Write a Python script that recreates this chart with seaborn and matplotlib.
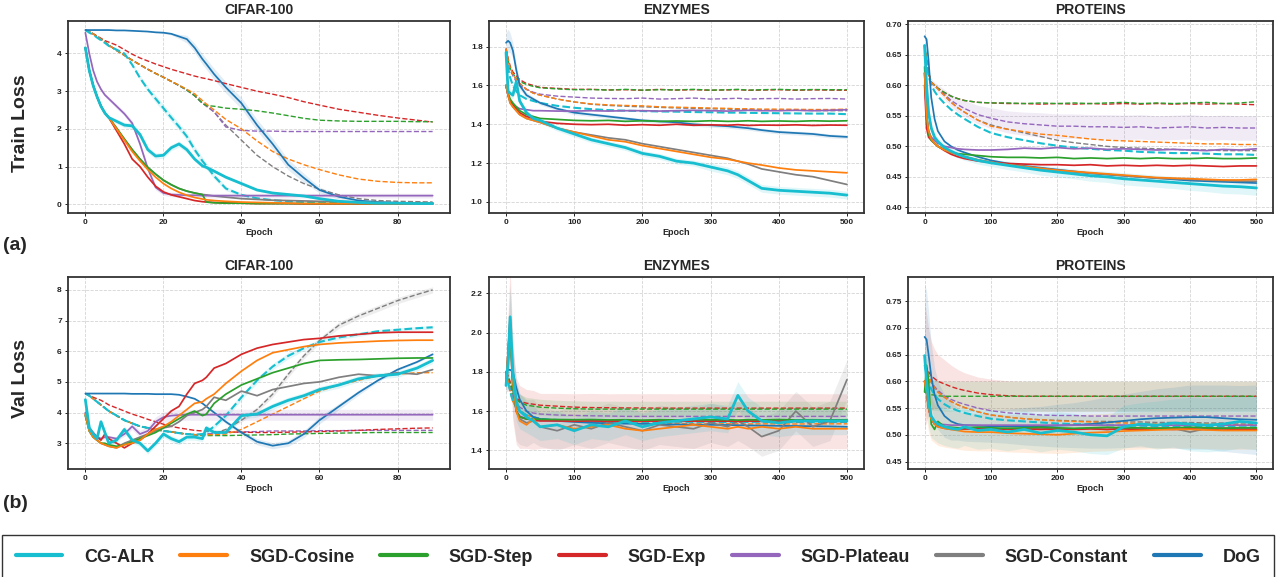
import numpy as np
import seaborn as sns
import matplotlib.pyplot as plt
from matplotlib.lines import Line2D

# methods / colours
methods = ['CG-ALR', 'SGD-Cosine', 'SGD-Step', 'SGD-Exp', 'SGD-Plateau', 'SGD-Constant', 'DoG']
colors = ['#17becf', '#ff7f0e', '#2ca02c', '#d62728', '#9467bd', '#7f7f7f', '#1f77b4']

# ---------------- CIFAR-100 (epochs 0-89) ----------------
cifar_ep = [0, 1, 2, 3, 4, 5, 6, 8, 10, 12, 14, 16, 18, 20, 22, 24, 26, 28, 30, 31, 33, 36, 40, 44, 48, 52, 56, 60, 65, 70, 75, 80, 85, 89]

# train loss, solid
cifar_tr_cg = [4.15, 3.55, 3.15, 2.85, 2.6, 2.42, 2.3, 2.2, 2.1, 2.08, 1.85, 1.45, 1.28, 1.3, 1.5, 1.6, 1.45, 1.2, 1.02, 0.98, 0.88, 0.72, 0.55, 0.38, 0.3, 0.26, 0.22, 0.15, 0.08, 0.05, 0.03, 0.03, 0.02, 0.02]
cifar_tr_cos = [4.15, 3.55, 3.15, 2.85, 2.6, 2.42, 2.3, 2.0, 1.7, 1.4, 1.15, 0.92, 0.72, 0.55, 0.42, 0.32, 0.24, 0.18, 0.14, 0.12, 0.1, 0.08, 0.06, 0.05, 0.04, 0.03, 0.02, 0.02, 0.02, 0.02, 0.02, 0.02, 0.02, 0.02]
cifar_tr_step = [4.15, 3.55, 3.15, 2.85, 2.6, 2.42, 2.3, 2.02, 1.73, 1.45, 1.2, 0.98, 0.8, 0.64, 0.52, 0.42, 0.35, 0.3, 0.26, 0.06, 0.04, 0.03, 0.03, 0.02, 0.02, 0.02, 0.02, 0.02, 0.02, 0.02, 0.02, 0.02, 0.02, 0.02]
cifar_tr_exp = [4.15, 3.55, 3.15, 2.85, 2.6, 2.42, 2.3, 1.95, 1.6, 1.2, 1.0, 0.72, 0.48, 0.33, 0.25, 0.2, 0.15, 0.1, 0.07, 0.06, 0.05, 0.04, 0.03, 0.02, 0.02, 0.02, 0.01, 0.01, 0.01, 0.01, 0.01, 0.01, 0.01, 0.01]
cifar_tr_plat = [4.55, 4.0, 3.55, 3.25, 3.05, 2.9, 2.8, 2.6, 2.4, 2.15, 1.6, 0.95, 0.45, 0.3, 0.26, 0.25, 0.24, 0.24, 0.23, 0.23, 0.23, 0.23, 0.23, 0.23, 0.23, 0.23, 0.23, 0.23, 0.23, 0.23, 0.23, 0.23, 0.23, 0.23]
cifar_tr_const = [4.15, 3.55, 3.15, 2.85, 2.6, 2.42, 2.3, 2.02, 1.73, 1.45, 1.2, 0.98, 0.8, 0.64, 0.52, 0.42, 0.35, 0.3, 0.26, 0.25, 0.22, 0.19, 0.15, 0.13, 0.11, 0.1, 0.09, 0.08, 0.07, 0.06, 0.05, 0.04, 0.04, 0.04]
cifar_tr_dog = [4.62, 4.62, 4.62, 4.62, 4.62, 4.62, 4.62, 4.61, 4.61, 4.6, 4.59, 4.58, 4.56, 4.55, 4.52, 4.45, 4.38, 4.15, 3.85, 3.72, 3.45, 3.1, 2.68, 2.1, 1.6, 1.05, 0.7, 0.38, 0.2, 0.1, 0.06, 0.04, 0.03, 0.03]
# train loss, dashed
cifar_tr_cg_d = [4.62, 4.55, 4.5, 4.42, 4.35, 4.28, 4.2, 4.1, 4.0, 3.7, 3.35, 3.05, 2.8, 2.55, 2.3, 2.06, 1.8, 1.45, 1.15, 1.02, 0.75, 0.42, 0.25, 0.16, 0.11, 0.08, 0.06, 0.05, 0.04, 0.03, 0.03, 0.02, 0.02, 0.02]
cifar_tr_cos_d = [4.62, 4.58, 4.52, 4.45, 4.38, 4.3, 4.22, 4.08, 3.95, 3.82, 3.7, 3.58, 3.47, 3.37, 3.26, 3.16, 3.05, 2.93, 2.75, 2.66, 2.5, 2.25, 2.0, 1.68, 1.4, 1.2, 1.05, 0.92, 0.78, 0.67, 0.61, 0.58, 0.57, 0.57]
cifar_tr_step_d = [4.62, 4.58, 4.52, 4.45, 4.38, 4.3, 4.22, 4.08, 3.95, 3.82, 3.7, 3.58, 3.47, 3.37, 3.26, 3.15, 3.03, 2.88, 2.68, 2.62, 2.6, 2.55, 2.52, 2.48, 2.42, 2.35, 2.28, 2.23, 2.21, 2.2, 2.2, 2.2, 2.19, 2.19]
cifar_tr_exp_d = [4.62, 4.58, 4.52, 4.46, 4.4, 4.34, 4.3, 4.22, 4.1, 3.98, 3.88, 3.8, 3.72, 3.65, 3.58, 3.52, 3.46, 3.4, 3.35, 3.33, 3.28, 3.2, 3.1, 3.0, 2.92, 2.83, 2.72, 2.63, 2.52, 2.44, 2.36, 2.29, 2.23, 2.18]
cifar_tr_plat_d = [4.62, 4.58, 4.52, 4.45, 4.38, 4.3, 4.22, 4.08, 3.95, 3.82, 3.7, 3.58, 3.47, 3.37, 3.26, 3.15, 3.03, 2.88, 2.68, 2.62, 2.45, 2.05, 1.96, 1.94, 1.94, 1.93, 1.93, 1.93, 1.93, 1.93, 1.93, 1.93, 1.93, 1.93]
cifar_tr_const_d = [4.62, 4.58, 4.52, 4.45, 4.38, 4.3, 4.22, 4.08, 3.95, 3.82, 3.7, 3.58, 3.47, 3.37, 3.26, 3.15, 3.03, 2.88, 2.68, 2.6, 2.45, 2.1, 1.7, 1.3, 1.0, 0.75, 0.55, 0.4, 0.25, 0.15, 0.1, 0.08, 0.07, 0.06]
# train loss, spread
cifar_tr_dog_sd = [0, 0, 0, 0, 0, 0, 0, 0, 0, 0, 0, 0, 0.01, 0.02, 0.03, 0.06, 0.1, 0.12, 0.14, 0.14, 0.15, 0.15, 0.15, 0.15, 0.15, 0.14, 0.12, 0.08, 0.06, 0.04, 0.03, 0.02, 0.02, 0.02]
cifar_tr_cg_d_sd = [0, 0, 0, 0, 0, 0, 0, 0, 0.02, 0.04, 0.06, 0.08, 0.1, 0.1, 0.1, 0.1, 0.1, 0.1, 0.1, 0.09, 0.08, 0.06, 0.04, 0.03, 0.02, 0.02, 0.01, 0.01, 0.01, 0.01, 0.01, 0.01, 0.01, 0.01]
cifar_tr_cg_sd = [0.02, 0.03, 0.04, 0.05, 0.05, 0.05, 0.05, 0.06, 0.07, 0.08, 0.08, 0.08, 0.08, 0.08, 0.08, 0.08, 0.08, 0.06, 0.05, 0.05, 0.04, 0.04, 0.03, 0.03, 0.03, 0.02, 0.02, 0.02, 0.02, 0.02, 0.02, 0.02, 0.02, 0.02]
cifar_tr_plat_sd = [0, 0.02, 0.03, 0.04, 0.05, 0.05, 0.05, 0.06, 0.06, 0.07, 0.07, 0.07, 0.07, 0.06, 0.06, 0.06, 0.06, 0.06, 0.06, 0.06, 0.06, 0.06, 0.06, 0.06, 0.06, 0.06, 0.06, 0.06, 0.06, 0.06, 0.06, 0.06, 0.06, 0.06]

# val loss, solid
cifar_va_cg = [4.42, 3.5, 3.3, 3.15, 3.7, 3.35, 3.0, 3.1, 3.45, 3.1, 3.0, 2.75, 3.0, 3.3, 3.15, 3.05, 3.2, 3.2, 3.15, 3.5, 3.35, 3.35, 3.9, 3.95, 4.2, 4.4, 4.55, 4.75, 4.9, 5.1, 5.2, 5.25, 5.45, 5.7]
cifar_va_cos = [3.95, 3.4, 3.2, 3.1, 3.0, 2.95, 2.9, 2.85, 2.95, 3.0, 3.1, 3.3, 3.45, 3.55, 3.7, 3.9, 4.1, 4.3, 4.35, 4.45, 4.6, 4.95, 5.35, 5.7, 5.95, 6.05, 6.15, 6.22, 6.27, 6.3, 6.33, 6.35, 6.36, 6.36]
cifar_va_step = [3.9, 3.4, 3.2, 3.1, 3.0, 3.0, 2.95, 2.9, 2.95, 3.05, 3.15, 3.25, 3.35, 3.5, 3.65, 3.8, 3.95, 4.05, 3.9, 3.95, 4.3, 4.6, 4.9, 5.1, 5.3, 5.45, 5.6, 5.7, 5.72, 5.73, 5.75, 5.77, 5.78, 5.78]
cifar_va_exp = [3.95, 3.5, 3.3, 3.2, 3.1, 3.3, 3.15, 3.0, 2.85, 3.0, 3.1, 3.3, 3.55, 3.8, 4.05, 4.2, 4.6, 4.95, 5.05, 5.15, 5.45, 5.6, 5.9, 6.1, 6.22, 6.3, 6.38, 6.42, 6.5, 6.55, 6.6, 6.62, 6.62, 6.62]
cifar_va_plat = [4.0, 3.5, 3.35, 3.2, 3.15, 3.2, 3.2, 3.15, 3.3, 3.55, 3.3, 3.4, 3.7, 3.85, 3.9, 3.92, 3.93, 3.93, 3.93, 3.93, 3.93, 3.93, 3.93, 3.93, 3.93, 3.93, 3.93, 3.93, 3.93, 3.93, 3.93, 3.93, 3.93, 3.93]
cifar_va_const = [3.9, 3.4, 3.2, 3.1, 3.0, 2.95, 2.9, 2.85, 3.0, 3.1, 3.2, 3.3, 3.4, 3.5, 3.55, 3.7, 3.9, 4.0, 4.1, 4.2, 4.5, 4.4, 4.7, 4.55, 4.75, 4.85, 4.95, 5.0, 5.15, 5.25, 5.2, 5.3, 5.25, 5.4]
cifar_va_dog = [4.62, 4.62, 4.62, 4.62, 4.62, 4.62, 4.62, 4.62, 4.62, 4.61, 4.61, 4.61, 4.6, 4.6, 4.6, 4.58, 4.52, 4.45, 4.3, 4.2, 4.0, 3.7, 3.35, 3.05, 2.92, 3.0, 3.3, 3.75, 4.2, 4.65, 5.05, 5.4, 5.65, 5.9]
# val loss, dashed
cifar_va_cg_d = [4.62, 4.55, 4.45, 4.35, 4.25, 4.15, 4.05, 3.9, 3.75, 3.65, 3.55, 3.5, 3.45, 3.4, 3.37, 3.33, 3.3, 3.28, 3.3, 3.35, 3.55, 3.9, 4.5, 5.05, 5.5, 5.85, 6.1, 6.3, 6.45, 6.55, 6.65, 6.7, 6.75, 6.78]
cifar_va_cos_d = [4.62, 4.55, 4.45, 4.35, 4.25, 4.15, 4.05, 3.9, 3.75, 3.65, 3.55, 3.5, 3.45, 3.4, 3.37, 3.33, 3.3, 3.28, 3.27, 3.28, 3.28, 3.3, 3.45, 3.7, 3.95, 4.2, 4.45, 4.7, 4.9, 5.05, 5.2, 5.25, 5.3, 5.3]
cifar_va_step_d = [4.62, 4.55, 4.45, 4.35, 4.25, 4.15, 4.05, 3.9, 3.75, 3.65, 3.55, 3.5, 3.45, 3.4, 3.37, 3.33, 3.3, 3.28, 3.25, 3.25, 3.25, 3.25, 3.26, 3.27, 3.28, 3.3, 3.31, 3.32, 3.33, 3.34, 3.35, 3.35, 3.35, 3.35]
cifar_va_exp_d = [4.62, 4.57, 4.5, 4.45, 4.4, 4.33, 4.25, 4.15, 4.05, 3.95, 3.87, 3.78, 3.7, 3.62, 3.55, 3.5, 3.46, 3.42, 3.4, 3.4, 3.38, 3.37, 3.36, 3.35, 3.35, 3.36, 3.37, 3.38, 3.4, 3.42, 3.45, 3.47, 3.49, 3.5]
cifar_va_plat_d = [4.62, 4.55, 4.45, 4.35, 4.25, 4.15, 4.05, 3.9, 3.75, 3.65, 3.55, 3.5, 3.45, 3.4, 3.37, 3.33, 3.3, 3.28, 3.27, 3.3, 3.32, 3.35, 3.37, 3.38, 3.4, 3.4, 3.4, 3.41, 3.41, 3.42, 3.42, 3.42, 3.42, 3.42]
cifar_va_const_d = [4.62, 4.55, 4.45, 4.35, 4.25, 4.15, 4.05, 3.9, 3.75, 3.65, 3.55, 3.5, 3.45, 3.4, 3.37, 3.33, 3.3, 3.28, 3.27, 3.3, 3.32, 3.45, 3.75, 4.1, 4.6, 5.25, 5.85, 6.35, 6.85, 7.15, 7.4, 7.65, 7.85, 8.0]
# val loss, spread
cifar_va_plat_sd = [0.05, 0.05, 0.05, 0.05, 0.05, 0.05, 0.05, 0.06, 0.08, 0.1, 0.12, 0.14, 0.16, 0.17, 0.18, 0.18, 0.18, 0.18, 0.18, 0.18, 0.18, 0.18, 0.18, 0.18, 0.18, 0.18, 0.18, 0.18, 0.18, 0.18, 0.18, 0.18, 0.18, 0.18]
cifar_va_cg_d_sd = [0.02, 0.02, 0.02, 0.02, 0.02, 0.02, 0.02, 0.02, 0.02, 0.02, 0.02, 0.02, 0.02, 0.02, 0.02, 0.02, 0.02, 0.02, 0.05, 0.06, 0.08, 0.1, 0.1, 0.1, 0.1, 0.1, 0.08, 0.08, 0.07, 0.07, 0.06, 0.06, 0.06, 0.06]
cifar_va_dog_sd = [0, 0, 0, 0, 0, 0, 0, 0, 0, 0, 0, 0, 0, 0, 0, 0, 0, 0, 0, 0.02, 0.04, 0.06, 0.08, 0.1, 0.1, 0.1, 0.12, 0.12, 0.1, 0.08, 0.05, 0.04, 0.03, 0.03]
cifar_va_const_d_sd = [0, 0, 0, 0, 0, 0, 0, 0, 0, 0, 0, 0, 0, 0, 0, 0, 0, 0, 0, 0, 0, 0.05, 0.06, 0.08, 0.1, 0.1, 0.1, 0.1, 0.1, 0.1, 0.1, 0.1, 0.1, 0.1]
cifar_va_cg_sd = [0.2, 0.15, 0.1, 0.1, 0.1, 0.1, 0.1, 0.1, 0.12, 0.1, 0.1, 0.1, 0.1, 0.1, 0.1, 0.1, 0.1, 0.1, 0.1, 0.1, 0.1, 0.1, 0.1, 0.1, 0.1, 0.1, 0.1, 0.1, 0.1, 0.1, 0.1, 0.1, 0.1, 0.1]

# ---------------- ENZYMES (epochs 0-500) ----------------
enz_ep = [0, 3, 6, 10, 15, 20, 30, 40, 50, 75, 100, 125, 150, 175, 200, 225, 250, 275, 300, 325, 340, 355, 375, 400, 425, 450, 475, 500]

enz_tr_cg = [1.77, 1.57, 1.56, 1.55, 1.62, 1.52, 1.46, 1.43, 1.42, 1.38, 1.35, 1.32, 1.3, 1.28, 1.25, 1.235, 1.21, 1.2, 1.18, 1.16, 1.14, 1.11, 1.07, 1.06, 1.055, 1.05, 1.045, 1.035]
enz_tr_cos = [1.6, 1.55, 1.51, 1.49, 1.47, 1.45, 1.43, 1.42, 1.41, 1.38, 1.36, 1.34, 1.32, 1.31, 1.29, 1.275, 1.26, 1.245, 1.23, 1.22, 1.21, 1.2, 1.19, 1.175, 1.165, 1.16, 1.155, 1.15]
enz_tr_step = [1.6, 1.56, 1.53, 1.51, 1.49, 1.47, 1.45, 1.44, 1.43, 1.425, 1.42, 1.418, 1.42, 1.415, 1.418, 1.415, 1.417, 1.415, 1.418, 1.415, 1.416, 1.418, 1.415, 1.417, 1.415, 1.418, 1.416, 1.418]
enz_tr_exp = [1.6, 1.55, 1.52, 1.5, 1.48, 1.46, 1.44, 1.43, 1.415, 1.405, 1.4, 1.398, 1.4, 1.395, 1.398, 1.395, 1.4, 1.395, 1.397, 1.395, 1.398, 1.394, 1.396, 1.395, 1.397, 1.394, 1.396, 1.395]
enz_tr_plat = [1.6, 1.55, 1.52, 1.5, 1.49, 1.48, 1.475, 1.47, 1.47, 1.468, 1.468, 1.47, 1.468, 1.47, 1.47, 1.468, 1.47, 1.472, 1.47, 1.468, 1.47, 1.472, 1.47, 1.47, 1.472, 1.47, 1.472, 1.475]
enz_tr_const = [1.6, 1.55, 1.51, 1.49, 1.47, 1.45, 1.43, 1.42, 1.41, 1.38, 1.36, 1.345, 1.33, 1.32, 1.3, 1.285, 1.27, 1.255, 1.24, 1.225, 1.21, 1.195, 1.17, 1.155, 1.14, 1.13, 1.11, 1.09]
enz_tr_dog = [1.82, 1.83, 1.82, 1.78, 1.68, 1.6, 1.55, 1.53, 1.51, 1.48, 1.46, 1.45, 1.44, 1.43, 1.42, 1.415, 1.41, 1.4, 1.395, 1.39, 1.385, 1.38, 1.37, 1.36, 1.355, 1.35, 1.34, 1.335]
enz_tr_cg_d = [1.76, 1.69, 1.64, 1.6, 1.57, 1.55, 1.53, 1.52, 1.51, 1.495, 1.485, 1.478, 1.473, 1.47, 1.468, 1.466, 1.465, 1.463, 1.462, 1.46, 1.46, 1.459, 1.458, 1.457, 1.456, 1.455, 1.455, 1.452]
enz_tr_cos_d = [1.79, 1.73, 1.69, 1.66, 1.63, 1.61, 1.58, 1.56, 1.55, 1.53, 1.515, 1.505, 1.5, 1.497, 1.495, 1.49, 1.488, 1.486, 1.484, 1.482, 1.48, 1.48, 1.478, 1.478, 1.477, 1.476, 1.476, 1.478]
enz_tr_step_d = [1.78, 1.73, 1.69, 1.66, 1.64, 1.62, 1.605, 1.595, 1.588, 1.582, 1.578, 1.579, 1.576, 1.58, 1.576, 1.578, 1.577, 1.58, 1.576, 1.578, 1.58, 1.576, 1.578, 1.58, 1.577, 1.579, 1.578, 1.578]
enz_tr_exp_d = [1.79, 1.74, 1.7, 1.67, 1.65, 1.63, 1.61, 1.6, 1.59, 1.585, 1.58, 1.58, 1.577, 1.578, 1.575, 1.58, 1.576, 1.578, 1.575, 1.577, 1.578, 1.575, 1.576, 1.578, 1.575, 1.577, 1.576, 1.575]
enz_tr_plat_d = [1.78, 1.72, 1.68, 1.65, 1.62, 1.6, 1.58, 1.565, 1.555, 1.545, 1.54, 1.535, 1.533, 1.532, 1.535, 1.53, 1.532, 1.535, 1.53, 1.532, 1.534, 1.53, 1.532, 1.533, 1.53, 1.532, 1.533, 1.53]
enz_tr_const_d = [1.79, 1.73, 1.69, 1.66, 1.63, 1.61, 1.58, 1.56, 1.55, 1.53, 1.515, 1.503, 1.497, 1.493, 1.49, 1.487, 1.484, 1.482, 1.48, 1.478, 1.476, 1.475, 1.474, 1.473, 1.472, 1.471, 1.47, 1.47]
enz_tr_dog_sd = [0.05, 0.06, 0.05, 0.04, 0.03, 0.02, 0.015, 0.01, 0.01, 0.01, 0.01, 0.01, 0.01, 0.01, 0.01, 0.01, 0.01, 0.01, 0.01, 0.01, 0.01, 0.01, 0.01, 0.01, 0.01, 0.01, 0.01, 0.01]
enz_tr_cg_sd = [0.03, 0.02, 0.02, 0.02, 0.02, 0.015, 0.015, 0.015, 0.015, 0.015, 0.015, 0.015, 0.015, 0.015, 0.015, 0.015, 0.015, 0.015, 0.02, 0.02, 0.02, 0.02, 0.02, 0.02, 0.02, 0.02, 0.02, 0.02]

enz_va_cg = [1.73, 1.85, 2.08, 1.8, 1.65, 1.6, 1.57, 1.55, 1.52, 1.53, 1.5, 1.53, 1.52, 1.55, 1.52, 1.54, 1.55, 1.56, 1.57, 1.56, 1.68, 1.6, 1.55, 1.54, 1.55, 1.55, 1.55, 1.55]
enz_va_cos = [1.75, 1.9, 2.05, 1.75, 1.6, 1.55, 1.53, 1.56, 1.52, 1.53, 1.51, 1.52, 1.53, 1.51, 1.5, 1.51, 1.52, 1.53, 1.52, 1.51, 1.52, 1.51, 1.52, 1.51, 1.52, 1.51, 1.51, 1.51]
enz_va_step = [1.75, 1.85, 2.0, 1.72, 1.6, 1.57, 1.56, 1.56, 1.558, 1.557, 1.556, 1.557, 1.555, 1.556, 1.554, 1.556, 1.555, 1.557, 1.555, 1.556, 1.554, 1.556, 1.555, 1.557, 1.555, 1.556, 1.555, 1.556]
enz_va_exp = [1.75, 1.9, 2.08, 1.75, 1.6, 1.57, 1.56, 1.555, 1.55, 1.55, 1.548, 1.55, 1.548, 1.549, 1.548, 1.549, 1.548, 1.549, 1.548, 1.549, 1.548, 1.549, 1.548, 1.549, 1.548, 1.549, 1.548, 1.548]
enz_va_plat = [1.75, 1.85, 2.0, 1.72, 1.6, 1.575, 1.56, 1.555, 1.552, 1.55, 1.55, 1.551, 1.55, 1.549, 1.55, 1.551, 1.55, 1.55, 1.549, 1.55, 1.551, 1.55, 1.55, 1.549, 1.55, 1.55, 1.551, 1.55]
enz_va_const = [1.75, 1.9, 2.05, 1.75, 1.6, 1.56, 1.54, 1.55, 1.52, 1.5, 1.53, 1.51, 1.54, 1.52, 1.5, 1.53, 1.52, 1.51, 1.54, 1.52, 1.55, 1.52, 1.47, 1.5, 1.6, 1.52, 1.55, 1.76]
enz_va_dog = [1.8, 1.81, 1.81, 1.8, 1.72, 1.66, 1.6, 1.57, 1.56, 1.55, 1.545, 1.54, 1.538, 1.536, 1.535, 1.533, 1.532, 1.531, 1.53, 1.529, 1.528, 1.527, 1.526, 1.525, 1.524, 1.523, 1.522, 1.52]
enz_va_cg_d = [1.8, 1.75, 1.7, 1.65, 1.62, 1.6, 1.58, 1.57, 1.56, 1.555, 1.55, 1.548, 1.547, 1.546, 1.545, 1.545, 1.546, 1.545, 1.545, 1.544, 1.545, 1.545, 1.546, 1.545, 1.545, 1.544, 1.545, 1.545]
enz_va_cos_d = [1.8, 1.75, 1.7, 1.65, 1.62, 1.6, 1.58, 1.57, 1.56, 1.553, 1.548, 1.545, 1.54, 1.538, 1.537, 1.536, 1.535, 1.535, 1.534, 1.535, 1.535, 1.534, 1.535, 1.535, 1.534, 1.535, 1.535, 1.535]
enz_va_step_d = [1.8, 1.77, 1.74, 1.69, 1.66, 1.645, 1.63, 1.625, 1.62, 1.615, 1.612, 1.61, 1.61, 1.61, 1.61, 1.61, 1.61, 1.61, 1.61, 1.61, 1.61, 1.61, 1.61, 1.61, 1.61, 1.61, 1.61, 1.61]
enz_va_exp_d = [1.8, 1.78, 1.75, 1.7, 1.67, 1.65, 1.64, 1.635, 1.63, 1.625, 1.62, 1.618, 1.617, 1.616, 1.616, 1.615, 1.615, 1.615, 1.615, 1.615, 1.615, 1.615, 1.615, 1.615, 1.615, 1.615, 1.615, 1.615]
enz_va_plat_d = [1.8, 1.76, 1.72, 1.67, 1.64, 1.62, 1.6, 1.59, 1.585, 1.58, 1.578, 1.576, 1.575, 1.573, 1.573, 1.573, 1.573, 1.573, 1.573, 1.573, 1.573, 1.573, 1.573, 1.573, 1.573, 1.573, 1.573, 1.573]
enz_va_const_d = [1.8, 1.75, 1.7, 1.65, 1.62, 1.6, 1.58, 1.57, 1.56, 1.555, 1.55, 1.55, 1.55, 1.55, 1.55, 1.55, 1.55, 1.55, 1.55, 1.55, 1.55, 1.55, 1.55, 1.55, 1.55, 1.55, 1.55, 1.55]
enz_va_exp_sd = [0.05, 0.2, 0.25, 0.2, 0.17, 0.16, 0.15, 0.15, 0.14, 0.14, 0.14, 0.14, 0.14, 0.14, 0.14, 0.14, 0.14, 0.14, 0.14, 0.14, 0.14, 0.14, 0.14, 0.14, 0.14, 0.14, 0.14, 0.14]
enz_va_const_sd = [0.05, 0.15, 0.2, 0.18, 0.15, 0.13, 0.12, 0.11, 0.1, 0.1, 0.1, 0.1, 0.1, 0.1, 0.1, 0.1, 0.1, 0.1, 0.1, 0.1, 0.1, 0.1, 0.1, 0.1, 0.1, 0.1, 0.1, 0.1]
enz_va_cg_sd = [0.05, 0.1, 0.15, 0.12, 0.1, 0.09, 0.08, 0.08, 0.07, 0.07, 0.07, 0.07, 0.07, 0.07, 0.07, 0.07, 0.07, 0.07, 0.07, 0.07, 0.07, 0.07, 0.07, 0.07, 0.07, 0.07, 0.07, 0.07]
enz_va_step_d_sd = [0.02, 0.03, 0.04, 0.04, 0.04, 0.04, 0.04, 0.04, 0.04, 0.04, 0.04, 0.04, 0.04, 0.04, 0.04, 0.04, 0.04, 0.04, 0.04, 0.04, 0.04, 0.04, 0.04, 0.04, 0.04, 0.04, 0.04, 0.04]

# ---------------- PROTEINS (epochs 0-500) ----------------
prot_ep = [0, 3, 6, 10, 15, 20, 30, 40, 50, 60, 80, 100, 125, 150, 175, 200, 225, 250, 275, 300, 325, 350, 375, 400, 425, 450, 475, 500]

prot_tr_cg = [0.665, 0.6, 0.555, 0.53, 0.515, 0.508, 0.498, 0.492, 0.487, 0.483, 0.477, 0.473, 0.469, 0.465, 0.461, 0.458, 0.455, 0.452, 0.45, 0.447, 0.445, 0.443, 0.441, 0.439, 0.437, 0.435, 0.434, 0.432]
prot_tr_cos = [0.62, 0.55, 0.525, 0.512, 0.505, 0.5, 0.494, 0.49, 0.486, 0.483, 0.478, 0.474, 0.47, 0.467, 0.464, 0.461, 0.459, 0.457, 0.455, 0.453, 0.451, 0.449, 0.448, 0.447, 0.446, 0.445, 0.445, 0.446]
prot_tr_step = [0.63, 0.55, 0.52, 0.51, 0.505, 0.5, 0.495, 0.49, 0.488, 0.487, 0.485, 0.483, 0.482, 0.482, 0.481, 0.482, 0.48, 0.481, 0.48, 0.481, 0.48, 0.481, 0.48, 0.48, 0.481, 0.48, 0.48, 0.481]
prot_tr_exp = [0.6, 0.53, 0.515, 0.51, 0.505, 0.5, 0.493, 0.487, 0.483, 0.48, 0.476, 0.474, 0.472, 0.471, 0.47, 0.47, 0.469, 0.47, 0.468, 0.469, 0.468, 0.469, 0.468, 0.469, 0.468, 0.467, 0.468, 0.468]
prot_tr_plat = [0.62, 0.55, 0.525, 0.515, 0.51, 0.505, 0.5, 0.498, 0.496, 0.495, 0.494, 0.494, 0.495, 0.497, 0.496, 0.498, 0.496, 0.497, 0.495, 0.496, 0.495, 0.494, 0.495, 0.494, 0.493, 0.495, 0.494, 0.496]
prot_tr_const = [0.62, 0.55, 0.525, 0.512, 0.505, 0.5, 0.494, 0.49, 0.486, 0.483, 0.478, 0.474, 0.47, 0.467, 0.464, 0.461, 0.458, 0.456, 0.454, 0.452, 0.45, 0.448, 0.447, 0.446, 0.445, 0.444, 0.443, 0.443]
prot_tr_dog = [0.68, 0.675, 0.64, 0.58, 0.545, 0.525, 0.508, 0.5, 0.494, 0.49, 0.483, 0.477, 0.472, 0.468, 0.465, 0.462, 0.459, 0.456, 0.454, 0.452, 0.45, 0.448, 0.446, 0.444, 0.443, 0.442, 0.441, 0.44]
prot_tr_cg_d = [0.665, 0.64, 0.615, 0.6, 0.59, 0.582, 0.57, 0.56, 0.552, 0.545, 0.532, 0.522, 0.515, 0.51, 0.505, 0.501, 0.498, 0.496, 0.494, 0.493, 0.491, 0.49, 0.489, 0.489, 0.488, 0.487, 0.487, 0.486]
prot_tr_cos_d = [0.665, 0.64, 0.62, 0.605, 0.6, 0.594, 0.583, 0.572, 0.563, 0.556, 0.543, 0.533, 0.528, 0.524, 0.52, 0.518, 0.515, 0.512, 0.51, 0.509, 0.508, 0.507, 0.506, 0.505, 0.504, 0.504, 0.503, 0.503]
prot_tr_step_d = [0.665, 0.64, 0.62, 0.605, 0.6, 0.595, 0.588, 0.582, 0.578, 0.575, 0.572, 0.571, 0.571, 0.57, 0.571, 0.57, 0.571, 0.57, 0.571, 0.572, 0.57, 0.571, 0.57, 0.571, 0.572, 0.57, 0.571, 0.573]
prot_tr_exp_d = [0.665, 0.64, 0.62, 0.605, 0.6, 0.595, 0.588, 0.582, 0.578, 0.575, 0.572, 0.571, 0.57, 0.57, 0.569, 0.57, 0.569, 0.57, 0.569, 0.57, 0.569, 0.57, 0.569, 0.57, 0.569, 0.57, 0.569, 0.568]
prot_tr_plat_d = [0.665, 0.64, 0.62, 0.605, 0.6, 0.595, 0.585, 0.575, 0.568, 0.562, 0.552, 0.546, 0.54, 0.537, 0.535, 0.533, 0.533, 0.532, 0.532, 0.531, 0.532, 0.53, 0.531, 0.532, 0.53, 0.531, 0.53, 0.53]
prot_tr_const_d = [0.665, 0.64, 0.62, 0.605, 0.6, 0.594, 0.583, 0.572, 0.563, 0.556, 0.543, 0.535, 0.528, 0.522, 0.516, 0.51, 0.506, 0.503, 0.5, 0.498, 0.497, 0.496, 0.495, 0.494, 0.494, 0.493, 0.493, 0.493]
prot_tr_plat_d_sd = [0.005, 0.005, 0.005, 0.005, 0.005, 0.006, 0.008, 0.01, 0.012, 0.013, 0.015, 0.017, 0.018, 0.019, 0.02, 0.02, 0.02, 0.02, 0.02, 0.02, 0.02, 0.02, 0.02, 0.02, 0.02, 0.02, 0.02, 0.02]
prot_tr_cg_sd = [0.02, 0.015, 0.01, 0.008, 0.007, 0.006, 0.006, 0.006, 0.006, 0.006, 0.006, 0.006, 0.007, 0.007, 0.008, 0.008, 0.008, 0.009, 0.009, 0.01, 0.01, 0.01, 0.01, 0.011, 0.011, 0.012, 0.012, 0.012]

prot_va_cg = [0.648, 0.6, 0.56, 0.535, 0.525, 0.52, 0.515, 0.512, 0.51, 0.515, 0.508, 0.51, 0.505, 0.51, 0.503, 0.508, 0.505, 0.5, 0.498, 0.515, 0.52, 0.518, 0.522, 0.52, 0.518, 0.52, 0.525, 0.522]
prot_va_cos = [0.6, 0.58, 0.55, 0.53, 0.52, 0.515, 0.512, 0.51, 0.508, 0.506, 0.505, 0.505, 0.503, 0.502, 0.501, 0.5, 0.502, 0.504, 0.505, 0.507, 0.508, 0.509, 0.51, 0.51, 0.509, 0.508, 0.508, 0.508]
prot_va_step = [0.58, 0.63, 0.6, 0.52, 0.51, 0.525, 0.515, 0.514, 0.513, 0.513, 0.514, 0.513, 0.512, 0.513, 0.514, 0.513, 0.512, 0.513, 0.514, 0.513, 0.513, 0.512, 0.513, 0.514, 0.513, 0.512, 0.513, 0.513]
prot_va_exp = [0.6, 0.58, 0.55, 0.53, 0.52, 0.518, 0.515, 0.512, 0.512, 0.511, 0.511, 0.511, 0.51, 0.511, 0.51, 0.511, 0.51, 0.511, 0.51, 0.511, 0.51, 0.511, 0.51, 0.511, 0.51, 0.511, 0.51, 0.51]
prot_va_plat = [0.6, 0.58, 0.55, 0.53, 0.522, 0.52, 0.519, 0.518, 0.518, 0.518, 0.518, 0.518, 0.518, 0.518, 0.518, 0.518, 0.518, 0.518, 0.518, 0.518, 0.518, 0.518, 0.518, 0.518, 0.518, 0.518, 0.518, 0.518]
prot_va_const = [0.6, 0.58, 0.55, 0.53, 0.52, 0.515, 0.512, 0.51, 0.51, 0.511, 0.512, 0.51, 0.512, 0.511, 0.512, 0.51, 0.511, 0.512, 0.51, 0.512, 0.511, 0.513, 0.512, 0.505, 0.512, 0.513, 0.512, 0.512]
prot_va_dog = [0.683, 0.678, 0.65, 0.61, 0.575, 0.555, 0.535, 0.525, 0.52, 0.518, 0.517, 0.516, 0.516, 0.516, 0.516, 0.517, 0.518, 0.52, 0.523, 0.526, 0.529, 0.531, 0.532, 0.533, 0.533, 0.531, 0.529, 0.528]
prot_va_cg_d = [0.63, 0.615, 0.6, 0.585, 0.575, 0.567, 0.557, 0.55, 0.545, 0.541, 0.535, 0.53, 0.527, 0.525, 0.523, 0.521, 0.52, 0.519, 0.518, 0.517, 0.517, 0.516, 0.516, 0.515, 0.515, 0.515, 0.514, 0.514]
prot_va_cos_d = [0.63, 0.62, 0.61, 0.598, 0.588, 0.58, 0.57, 0.562, 0.556, 0.551, 0.543, 0.537, 0.533, 0.53, 0.528, 0.526, 0.525, 0.524, 0.523, 0.522, 0.521, 0.52, 0.52, 0.52, 0.52, 0.519, 0.519, 0.519]
prot_va_step_d = [0.58, 0.578, 0.576, 0.575, 0.574, 0.573, 0.572, 0.572, 0.572, 0.572, 0.572, 0.572, 0.572, 0.572, 0.572, 0.572, 0.572, 0.572, 0.572, 0.572, 0.572, 0.572, 0.572, 0.572, 0.572, 0.572, 0.572, 0.572]
prot_va_exp_d = [0.63, 0.625, 0.618, 0.61, 0.605, 0.6, 0.595, 0.59, 0.586, 0.583, 0.578, 0.575, 0.573, 0.572, 0.572, 0.572, 0.572, 0.572, 0.572, 0.572, 0.572, 0.572, 0.572, 0.572, 0.572, 0.572, 0.572, 0.572]
prot_va_plat_d = [0.63, 0.62, 0.61, 0.6, 0.59, 0.583, 0.573, 0.566, 0.561, 0.557, 0.55, 0.545, 0.541, 0.539, 0.537, 0.536, 0.536, 0.535, 0.535, 0.535, 0.535, 0.535, 0.535, 0.535, 0.535, 0.535, 0.535, 0.535]
prot_va_const_d = [0.63, 0.62, 0.61, 0.598, 0.588, 0.58, 0.57, 0.562, 0.556, 0.551, 0.543, 0.537, 0.533, 0.53, 0.528, 0.527, 0.526, 0.525, 0.525, 0.524, 0.524, 0.523, 0.523, 0.523, 0.522, 0.522, 0.522, 0.522]
prot_va_exp_d_sd = [0.12, 0.1, 0.08, 0.065, 0.055, 0.05, 0.045, 0.04, 0.036, 0.033, 0.03, 0.029, 0.028, 0.028, 0.028, 0.028, 0.028, 0.028, 0.028, 0.028, 0.028, 0.028, 0.028, 0.028, 0.028, 0.028, 0.028, 0.028]
prot_va_step_d_sd = [0.02, 0.025, 0.028, 0.028, 0.028, 0.028, 0.028, 0.028, 0.028, 0.028, 0.028, 0.028, 0.028, 0.028, 0.028, 0.028, 0.028, 0.028, 0.028, 0.028, 0.028, 0.028, 0.028, 0.028, 0.028, 0.028, 0.028, 0.028]
prot_va_dog_sd = [0.1, 0.09, 0.08, 0.06, 0.05, 0.045, 0.04, 0.035, 0.03, 0.03, 0.03, 0.03, 0.032, 0.035, 0.037, 0.04, 0.042, 0.045, 0.048, 0.05, 0.052, 0.055, 0.057, 0.06, 0.06, 0.062, 0.063, 0.065]
prot_va_cg_sd = [0.06, 0.05, 0.045, 0.04, 0.035, 0.035, 0.035, 0.035, 0.035, 0.035, 0.035, 0.035, 0.035, 0.035, 0.035, 0.035, 0.035, 0.035, 0.035, 0.04, 0.04, 0.045, 0.045, 0.05, 0.05, 0.05, 0.05, 0.05]
prot_va_cos_sd = [0.06, 0.05, 0.045, 0.04, 0.035, 0.035, 0.035, 0.035, 0.035, 0.035, 0.035, 0.035, 0.035, 0.035, 0.035, 0.035, 0.035, 0.035, 0.035, 0.035, 0.035, 0.035, 0.035, 0.035, 0.035, 0.035, 0.035, 0.035]

# ---------------- style ----------------
sns.set_style('whitegrid', {'grid.linestyle': '--', 'grid.color': '#d4d4d4',
                            'axes.edgecolor': '#333333', 'xtick.bottom': True,
                            'ytick.left': True})
plt.rcParams['font.family'] = ['Liberation Sans', 'DejaVu Sans']
plt.rcParams['font.weight'] = 'bold'


def draw_panel(ax, ep, solid, dashed, bands, title, ylim, yticks, xticks, yfmt):
    for vals, sd, c in bands:
        v = np.array(vals)
        s = np.array(sd)
        ax.fill_between(ep, v - s, v + s, color=c, alpha=0.13, lw=0, zorder=1)
    # dashed variants underneath
    for i in range(len(dashed) - 1, -1, -1):
        sns.lineplot(x=ep, y=dashed[i], ax=ax, color=colors[i], linestyle='--',
                     lw=1.5 if i == 0 else 1.0, errorbar=None, legend=False,
                     zorder=3 if i == 0 else 2)
    # solid lines, CG-ALR drawn last on top
    for i in range(len(solid) - 1, -1, -1):
        sns.lineplot(x=ep, y=solid[i], ax=ax, color=colors[i],
                     lw=2.0 if i == 0 else 1.25, errorbar=None, legend=False,
                     zorder=6 if i == 0 else 4)
    ax.set_title(title, fontsize=10, fontweight='bold', pad=5)
    ax.set_xlabel('Epoch', fontsize=6.5, fontweight='bold', labelpad=1)
    ax.set_ylabel('')
    ax.set_xlim(-ep[-1] * 0.05, ep[-1] * 1.05)
    ax.set_ylim(*ylim)
    ax.set_xticks(xticks)
    ax.set_yticks(yticks)
    ax.set_yticklabels([yfmt.format(t) for t in yticks])
    ax.tick_params(labelsize=6, length=2.5, width=0.7, pad=2, colors='#222222')
    for lab in ax.get_xticklabels() + ax.get_yticklabels():
        lab.set_fontweight('bold')
    ax.grid(True, linestyle='--', lw=0.6, color='#d4d4d4')
    for sp in ax.spines.values():
        sp.set_color('#333333')
        sp.set_linewidth(1.3)


fig = plt.figure(figsize=(12.76, 5.77), dpi=100)
W, H = 1276.0, 577.0
cols = [(68, 450), (489, 864), (908, 1273)]
rows = [(21, 213), (277, 469)]


def add_ax(r, c):
    (l, rr), (t, b) = cols[c], rows[r]
    return fig.add_axes([l / W, 1 - b / H, (rr - l) / W, (b - t) / H])


panels = [
    (0, 0, cifar_ep,
     [cifar_tr_cg, cifar_tr_cos, cifar_tr_step, cifar_tr_exp, cifar_tr_plat, cifar_tr_const, cifar_tr_dog],
     [cifar_tr_cg_d, cifar_tr_cos_d, cifar_tr_step_d, cifar_tr_exp_d, cifar_tr_plat_d, cifar_tr_const_d],
     [(cifar_tr_dog, cifar_tr_dog_sd, colors[6]), (cifar_tr_cg_d, cifar_tr_cg_d_sd, colors[0]),
      (cifar_tr_cg, cifar_tr_cg_sd, colors[0]), (cifar_tr_plat, cifar_tr_plat_sd, colors[4])],
     'CIFAR-100', (-0.23, 4.86), [0, 1, 2, 3, 4], [0, 20, 40, 60, 80], '{:.0f}'),
    (0, 1, enz_ep,
     [enz_tr_cg, enz_tr_cos, enz_tr_step, enz_tr_exp, enz_tr_plat, enz_tr_const, enz_tr_dog],
     [enz_tr_cg_d, enz_tr_cos_d, enz_tr_step_d, enz_tr_exp_d, enz_tr_plat_d, enz_tr_const_d],
     [(enz_tr_dog, enz_tr_dog_sd, colors[6]), (enz_tr_cg, enz_tr_cg_sd, colors[0])],
     'ENZYMES', (0.943, 1.932), [1.0, 1.2, 1.4, 1.6, 1.8], [0, 100, 200, 300, 400, 500], '{:.1f}'),
    (0, 2, prot_ep,
     [prot_tr_cg, prot_tr_cos, prot_tr_step, prot_tr_exp, prot_tr_plat, prot_tr_const, prot_tr_dog],
     [prot_tr_cg_d, prot_tr_cos_d, prot_tr_step_d, prot_tr_exp_d, prot_tr_plat_d, prot_tr_const_d],
     [(prot_tr_plat_d, prot_tr_plat_d_sd, colors[4]), (prot_tr_cg, prot_tr_cg_sd, colors[0])],
     'PROTEINS', (0.391, 0.705), [0.40, 0.45, 0.50, 0.55, 0.60, 0.65, 0.70], [0, 100, 200, 300, 400, 500], '{:.2f}'),
    (1, 0, cifar_ep,
     [cifar_va_cg, cifar_va_cos, cifar_va_step, cifar_va_exp, cifar_va_plat, cifar_va_const, cifar_va_dog],
     [cifar_va_cg_d, cifar_va_cos_d, cifar_va_step_d, cifar_va_exp_d, cifar_va_plat_d, cifar_va_const_d],
     [(cifar_va_plat, cifar_va_plat_sd, colors[4]), (cifar_va_cg_d, cifar_va_cg_d_sd, colors[0]),
      (cifar_va_dog, cifar_va_dog_sd, colors[6]), (cifar_va_const_d, cifar_va_const_d_sd, colors[5]),
      (cifar_va_cg, cifar_va_cg_sd, colors[0])],
     'CIFAR-100', (2.16, 8.42), [3, 4, 5, 6, 7, 8], [0, 20, 40, 60, 80], '{:.0f}'),
    (1, 1, enz_ep,
     [enz_va_cg, enz_va_cos, enz_va_step, enz_va_exp, enz_va_plat, enz_va_const, enz_va_dog],
     [enz_va_cg_d, enz_va_cos_d, enz_va_step_d, enz_va_exp_d, enz_va_plat_d, enz_va_const_d],
     [(enz_va_exp, enz_va_exp_sd, colors[3]), (enz_va_const, enz_va_const_sd, colors[5]),
      (enz_va_cg, enz_va_cg_sd, colors[0]), (enz_va_step_d, enz_va_step_d_sd, colors[2])],
     'ENZYMES', (1.305, 2.283), [1.4, 1.6, 1.8, 2.0, 2.2], [0, 100, 200, 300, 400, 500], '{:.1f}'),
    (1, 2, prot_ep,
     [prot_va_cg, prot_va_cos, prot_va_step, prot_va_exp, prot_va_plat, prot_va_const, prot_va_dog],
     [prot_va_cg_d, prot_va_cos_d, prot_va_step_d, prot_va_exp_d, prot_va_plat_d, prot_va_const_d],
     [(prot_va_exp_d, prot_va_exp_d_sd, colors[3]), (prot_va_step_d, prot_va_step_d_sd, colors[2]),
      (prot_va_dog, prot_va_dog_sd, colors[6]), (prot_va_cg, prot_va_cg_sd, colors[0]),
      (prot_va_cos, prot_va_cos_sd, colors[1])],
     'PROTEINS', (0.436, 0.795), [0.45, 0.50, 0.55, 0.60, 0.65, 0.70, 0.75], [0, 100, 200, 300, 400, 500], '{:.2f}'),
]

for r, c, ep, solid, dashed, bands, title, ylim, yt, xt, fmt in panels:
    ax = add_ax(r, c)
    draw_panel(ax, ep, solid, dashed, bands, title, ylim, yt, xt, fmt)

# row labels
fig.text(0.016, 1 - 123 / H, 'Train Loss', rotation=90, ha='center', va='center', fontsize=14, fontweight='bold')
fig.text(0.016, 1 - 378 / H, 'Val Loss', rotation=90, ha='center', va='center', fontsize=14, fontweight='bold')
fig.text(0.002, 1 - 246 / H, '(a)', ha='left', va='center', fontsize=14, fontweight='bold')
fig.text(0.002, 1 - 503 / H, '(b)', ha='left', va='center', fontsize=14, fontweight='bold')

# shared legend
handles = [Line2D([0], [0], color=colors[i], lw=3) for i in range(len(methods))]
leg = fig.legend(handles, methods, loc='lower left', ncol=7, mode='expand',
                 bbox_to_anchor=(2 / W, -0.004, 1 - 4 / W, 1 - 533 / H),
                 frameon=True, fancybox=False, edgecolor='black',
                 prop={'size': 13, 'weight': 'bold'}, handlelength=2.6,
                 handletextpad=1.2, borderpad=0.75, borderaxespad=0.0)
leg.get_frame().set_linewidth(1.0)

fig.savefig('out.png', dpi=100)
